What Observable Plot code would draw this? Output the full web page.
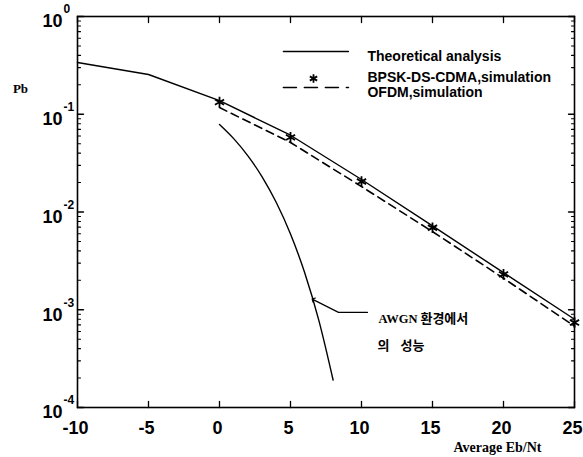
<!DOCTYPE html>
<html>
<head>
<meta charset="utf-8">
<script src="https://cdn.jsdelivr.net/npm/d3@7"></script>
<script src="https://cdn.jsdelivr.net/npm/@observablehq/plot@0.6"></script>
<style>
  html, body { margin: 0; padding: 0; background: #fff; }
  svg { overflow: visible; }
  g[aria-label="kr1"] text { letter-spacing: 3px; }
</style>
</head>
<body>
<div id="chart"></div>
<script>
// ---- data ----
const ebno = [-10, -5, 0, 5, 10, 15, 20, 25];
const theory = [0.338, 0.255, 0.138, 0.061, 0.0215, 0.0072, 0.0024, 0.00080];
const simX = [0, 5, 10, 15, 20, 25];
const bpskSim = [0.133, 0.058, 0.0205, 0.0069, 0.0023, 0.00074];
const ofdmSim = [0.117, 0.0514, 0.0182, 0.0063, 0.0021, 0.00068];
const awgnX = [0, 1, 2, 3, 4, 5, 6, 7, 8];
const awgnPb = [0.0786, 0.0563, 0.0375, 0.0229, 0.0125, 0.00595, 0.00239, 0.000773, 0.000191];

const xTicks = [-10, -5, 0, 5, 10, 15, 20, 25];
const xTickLabels = ["-10", "-5", "0", "5", "10", "15", "20", "25"];
const yTicks = [1e-4, 1e-3, 1e-2, 1e-1, 1];
const yExpLabels = ["-4", "-3", "-2", "-1", "0"];

const legendLabels = ["Theoretical analysis", "BPSK-DS-CDMA,simulation", "OFDM,simulation"];
const legendTextX = 10.42;
const legendTextY = [0.39, 0.238, 0.167];
const legendSolid = [[4.5, 0.438], [9.08, 0.438]];
const legendDashed = [[4.5, 0.188], [9.08, 0.188]];
const legendStar = [[6.62, 0.232]];

const arrowPath = [[10.42, 0.00094], [8.38, 0.00094], [6.6, 0.00127]];
const noteLine1a = {x: 11.2, y: 0.00080, text: "AWGN"};
const noteLine1b = {x: 14.15, y: 0.00080, text: "환경에서"};
const noteLine2a = {x: 11.13, y: 0.00043, text: "의"};
const noteLine2b = {x: 12.75, y: 0.00043, text: "성능"};

// minor log ticks
const yMinor = [];
for (let e = -4; e < 0; e++) for (let k = 2; k <= 9; k++) yMinor.push(k * Math.pow(10, e));

const tickShape = {draw(ctx, l) { ctx.moveTo(0, 0); ctx.lineTo(0, -l); }};
const sans = "'Liberation Sans', Arial, sans-serif";
const serif = "'Liberation Serif', 'Times New Roman', serif";
const kr = "'Liberation Serif', 'Noto Sans CJK KR', serif";

const theoryData = ebno.map((x, i) => ({x, y: theory[i]}));
const bpskData = simX.map((x, i) => ({x, y: bpskSim[i]}));
const ofdmData = simX.map((x, i) => ({x, y: ofdmSim[i]}));
const awgnData = awgnX.map((x, i) => ({x, y: awgnPb[i]}));
const legendData = legendLabels.map((t, i) => ({t, y: legendTextY[i]}));

const chart = Plot.plot({
  width: 583,
  height: 457,
  marginLeft: 77,
  marginRight: 9,
  marginTop: 16,
  marginBottom: 50,
  style: {background: "#fff", color: "#000", overflow: "visible"},
  x: {domain: [-10, 25], axis: null},
  y: {type: "log", domain: [1e-4, 1], axis: null},
  marks: [
    Plot.frame({stroke: "black", strokeWidth: 1.6}),
    // ticks (inward, all four sides)
    Plot.vector(xTicks, {x: d => d, frameAnchor: "bottom", length: 6, rotate: 0, anchor: "start", shape: tickShape, stroke: "black", strokeWidth: 1.3}),
    Plot.vector(xTicks, {x: d => d, frameAnchor: "top", length: 6, rotate: 180, anchor: "start", shape: tickShape, stroke: "black", strokeWidth: 1.3}),
    Plot.vector(yTicks, {y: d => d, frameAnchor: "left", length: 6, rotate: 90, anchor: "start", shape: tickShape, stroke: "black", strokeWidth: 1.3}),
    Plot.vector(yTicks, {y: d => d, frameAnchor: "right", length: 6, rotate: -90, anchor: "start", shape: tickShape, stroke: "black", strokeWidth: 1.3}),
    Plot.vector(yMinor, {y: d => d, frameAnchor: "left", length: 3, rotate: 90, anchor: "start", shape: tickShape, stroke: "black", strokeWidth: 1.1}),
    Plot.vector(yMinor, {y: d => d, frameAnchor: "right", length: 3, rotate: -90, anchor: "start", shape: tickShape, stroke: "black", strokeWidth: 1.1}),
    // tick labels
    Plot.text(xTicks, {x: d => d, text: (d, i) => xTickLabels[i], frameAnchor: "bottom", dx: -2, dy: 21, fontSize: 18, fontWeight: "bold", fontFamily: sans, textAnchor: "middle", lineAnchor: "middle"}),
    Plot.text(yTicks, {y: d => d, text: () => "10", frameAnchor: "left", dx: -15, dy: 5, fontSize: 18, fontWeight: "bold", fontFamily: sans, textAnchor: "end", lineAnchor: "middle"}),
    Plot.text(yTicks, {y: d => d, text: (d, i) => yExpLabels[i], frameAnchor: "left", dx: -14, dy: -7, fontSize: 12, fontWeight: "bold", fontFamily: sans, textAnchor: "start", lineAnchor: "middle"}),
    // axis labels
    Plot.text(["Pb"], {frameAnchor: "top-left", dx: -57, dy: 72, text: d => d, fontSize: 13, fontWeight: "bold", fontFamily: serif, textAnchor: "middle", lineAnchor: "middle"}),
    Plot.text(["Average Eb/Nt"], {frameAnchor: "bottom-right", dx: -77, dy: 40, text: d => d, fontSize: 14, fontWeight: "bold", fontFamily: serif, textAnchor: "middle", lineAnchor: "middle"}),
    // curves
    Plot.line(theoryData, {x: "x", y: "y", stroke: "black", strokeWidth: 1.4}),
    Plot.line(ofdmData, {x: "x", y: "y", stroke: "black", strokeWidth: 1.6, strokeDasharray: "8,5"}),
    Plot.line(awgnData, {x: "x", y: "y", stroke: "black", strokeWidth: 1.4, curve: "monotone-x"}),
    Plot.dot(bpskData, {x: "x", y: "y", symbol: "asterisk", r: 5, stroke: "black", strokeWidth: 1.8}),
    // annotation
    Plot.line(arrowPath, {x: d => d[0], y: d => d[1], stroke: "black", strokeWidth: 1.2, markerEnd: "arrow"}),
    Plot.text([noteLine1a], {x: "x", y: "y", text: "text", fontSize: 12.5, fontWeight: "bold", fontFamily: kr, textAnchor: "start", lineAnchor: "middle"}),
    Plot.text([noteLine2a], {x: "x", y: "y", text: "text", fontSize: 13, fontWeight: "bold", fontFamily: kr, textAnchor: "start", lineAnchor: "middle"}),
    Plot.text([noteLine1b], {x: "x", y: "y", text: "text", fontSize: 13, fontWeight: "bold", fontFamily: kr, textAnchor: "start", lineAnchor: "middle", ariaLabel: "kr1"}),
    Plot.text([noteLine2b], {x: "x", y: "y", text: "text", fontSize: 13, fontWeight: "bold", fontFamily: kr, textAnchor: "start", lineAnchor: "middle"}),
    // legend
    Plot.line(legendSolid, {x: d => d[0], y: d => d[1], stroke: "black", strokeWidth: 1.4}),
    Plot.line(legendDashed, {x: d => d[0], y: d => d[1], stroke: "black", strokeWidth: 1.6, strokeDasharray: "13,8"}),
    Plot.dot(legendStar, {x: d => d[0], y: d => d[1], symbol: "asterisk", r: 4, stroke: "black", strokeWidth: 1.8}),
    Plot.text(legendData, {x: () => legendTextX, y: "y", text: "t", fontSize: 14, fontWeight: "bold", fontFamily: sans, textAnchor: "start", lineAnchor: "middle"})
  ]
});
document.getElementById("chart").appendChild(chart);
</script>
</body>
</html>
